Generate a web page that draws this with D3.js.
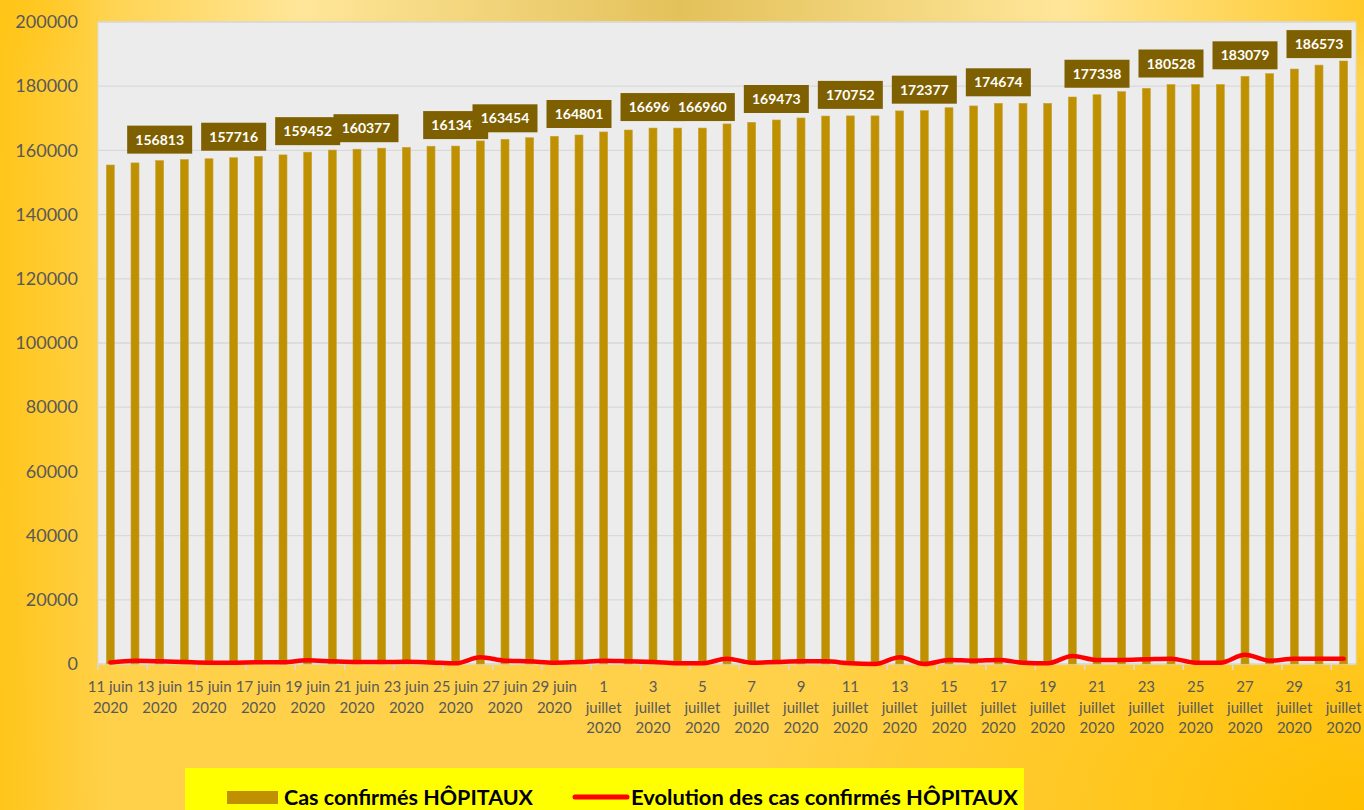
<!DOCTYPE html>
<html lang="fr">
<head>
<meta charset="UTF-8">
<title>Cas confirmés HÔPITAUX</title>
<script src="https://cdn.jsdelivr.net/npm/d3@7.8.5/dist/d3.min.js"></script>
<style>
  body { margin: 0; padding: 0; overflow: hidden; }
  svg { display: block; font-family: Lato, "Open Sans", sans-serif; }
</style>
</head>
<body>
<svg id="chart" width="1364" height="810"></svg>
<script>
// categories (one per day)
const dates = [
  "11 juin 2020", "12 juin 2020", "13 juin 2020", "14 juin 2020", "15 juin 2020", "16 juin 2020",
  "17 juin 2020", "18 juin 2020", "19 juin 2020", "20 juin 2020", "21 juin 2020", "22 juin 2020",
  "23 juin 2020", "24 juin 2020", "25 juin 2020", "26 juin 2020", "27 juin 2020", "28 juin 2020",
  "29 juin 2020", "30 juin 2020",
  "1 juillet 2020", "2 juillet 2020", "3 juillet 2020", "4 juillet 2020", "5 juillet 2020",
  "6 juillet 2020", "7 juillet 2020", "8 juillet 2020", "9 juillet 2020", "10 juillet 2020",
  "11 juillet 2020", "12 juillet 2020", "13 juillet 2020", "14 juillet 2020", "15 juillet 2020",
  "16 juillet 2020", "17 juillet 2020", "18 juillet 2020", "19 juillet 2020", "20 juillet 2020",
  "21 juillet 2020", "22 juillet 2020", "23 juillet 2020", "24 juillet 2020", "25 juillet 2020",
  "26 juillet 2020", "27 juillet 2020", "28 juillet 2020", "29 juillet 2020", "30 juillet 2020",
  "31 juillet 2020"
];

// cumulative confirmed cases (bars)
const casConfirmes = [
  155450, 156100, 156813, 157150, 157400, 157716, 158150, 158600, 159452, 160100,
  160377, 160700, 160950, 161300, 161347, 162950, 163454, 163950, 164400, 164801,
  165750, 166350, 166960, 166960, 166960, 168250, 168750, 169473, 170100, 170700,
  170752, 170752, 172300, 172377, 173300, 173850, 174674, 174674, 174674, 176636,
  177338, 178300, 179350, 180528, 180528, 180528, 183079, 183900, 185350, 186573,
  187850
];

// daily evolution (red line)
const evolution = [
  500, 1000, 850, 620, 420, 420, 520, 520, 1140, 830,
  620, 620, 700, 500, 210, 2080, 1040, 830, 420, 620,
  1040, 830, 620, 210, 210, 1660, 420, 620, 830, 830,
  210, 0, 2080, 0, 1250, 1040, 1250, 420, 210, 2490,
  1250, 1250, 1450, 1660, 420, 420, 2900, 1040, 1660, 1660,
  1660
];

// data labels shown on the chart (category index -> text)
const labelIndex = [2, 5, 8, 10, 14, 16, 19, 22, 24, 27, 30, 33, 36, 40, 43, 46, 49];
const labelText = ["156813", "157716", "159452", "160377", "161347", "163454", "164801", "166960",
  "166960", "169473", "170752", "172377", "174674", "177338", "180528", "183079", "186573"];

const yTicks = [0, 20000, 40000, 60000, 80000, 100000, 120000, 140000, 160000, 180000, 200000];

const seriesNames = ["Cas confirmés HÔPITAUX", "Evolution des cas confirmés HÔPITAUX"];

const W = 1364, H = 810;
const plot = { left: 98, right: 1356, top: 22, bottom: 664 };

const svg = d3.select("#chart");
const defs = svg.append("defs");

// background gradients
const gH = defs.append("linearGradient").attr("id", "bgH").attr("x1", 0).attr("x2", 1).attr("y1", 0).attr("y2", 0);
[[0, "#ffc928"], [0.22, "#ffe699"], [0.5, "#e3c15a"], [0.78, "#ffe699"], [1, "#ffc928"]]
  .forEach(s => gH.append("stop").attr("offset", s[0]).attr("stop-color", s[1]));

const gV = defs.append("linearGradient").attr("id", "bgV").attr("x1", 0).attr("x2", 0).attr("y1", 0).attr("y2", 1);
gV.append("stop").attr("offset", 0.02).attr("stop-color", "#ffd24a").attr("stop-opacity", 0);
gV.append("stop").attr("offset", 0.1).attr("stop-color", "#ffd24a").attr("stop-opacity", 1);
gV.append("stop").attr("offset", 1).attr("stop-color", "#ffd04a").attr("stop-opacity", 1);

const gL = defs.append("linearGradient").attr("id", "bgL").attr("x1", 0).attr("x2", 1).attr("y1", 0).attr("y2", 0);
gL.append("stop").attr("offset", 0).attr("stop-color", "#ffc415").attr("stop-opacity", 0.9);
gL.append("stop").attr("offset", 1).attr("stop-color", "#ffc415").attr("stop-opacity", 0);

const gR = defs.append("radialGradient").attr("id", "bgR").attr("cx", 1).attr("cy", 1).attr("r", 0.45);
gR.append("stop").attr("offset", 0).attr("stop-color", "#ffc000").attr("stop-opacity", 1);
gR.append("stop").attr("offset", 1).attr("stop-color", "#ffc000").attr("stop-opacity", 0);

svg.append("rect").attr("width", W).attr("height", H).attr("fill", "url(#bgH)");
svg.append("rect").attr("width", W).attr("height", H).attr("fill", "url(#bgV)");
svg.append("rect").attr("width", 110).attr("height", H).attr("fill", "url(#bgL)");
svg.append("rect").attr("width", W).attr("height", H).attr("fill", "url(#bgR)");

// plot area
svg.append("rect")
  .attr("x", plot.left).attr("y", plot.top)
  .attr("width", plot.right - plot.left).attr("height", plot.bottom - plot.top)
  .attr("fill", "#ececec").attr("stroke", "#d9d9d9").attr("stroke-width", 1);

const x = d3.scaleBand()
  .domain(dates)
  .range([plot.left, plot.right])
  .paddingInner(0.675)
  .paddingOuter(0.3375);

const y = d3.scaleLinear().domain([0, 200000]).range([plot.bottom, plot.top]);

// gridlines
svg.append("g")
  .selectAll("line")
  .data(yTicks)
  .join("line")
  .attr("x1", plot.left).attr("x2", plot.right)
  .attr("y1", d => y(d)).attr("y2", d => y(d))
  .attr("stroke", "#d9d9d9").attr("stroke-width", 1.3);

// y axis
const yAxis = svg.append("g")
  .attr("transform", `translate(${plot.left},0)`)
  .call(d3.axisLeft(y).tickValues(yTicks).tickSize(0).tickPadding(20).tickFormat(d3.format("d")));
yAxis.select(".domain").remove();
yAxis.selectAll("text")
  .attr("fill", "#595959").style("font-size", "18px").style("font-family", "Lato, sans-serif");

// x tick marks every two days
const step = x.step();
const tickCats = dates.filter((d, i) => i % 2 === 0);
svg.append("g")
  .selectAll("line")
  .data(tickCats)
  .join("line")
  .attr("x1", d => x(d) + x.bandwidth() / 2 - step / 2)
  .attr("x2", d => x(d) + x.bandwidth() / 2 - step / 2)
  .attr("y1", plot.bottom).attr("y2", plot.bottom + 6)
  .attr("stroke", "#d9d9d9").attr("stroke-width", 1.5);

// x labels (wrapped like the original)
function wrapLabel(d) {
  const parts = d.split(" ");
  if (parts[1] === "juin") return [parts[0] + " juin", parts[2]];
  return parts;
}
const xl = svg.append("g")
  .selectAll("text")
  .data(tickCats)
  .join("text")
  .attr("x", d => x(d) + x.bandwidth() / 2)
  .attr("y", 692)
  .attr("text-anchor", "middle")
  .attr("fill", "#595959")
  .style("font-size", "15px");
xl.each(function (d) {
  const t = d3.select(this);
  wrapLabel(d).forEach((line, i) => {
    t.append("tspan")
      .attr("x", x(d) + x.bandwidth() / 2)
      .attr("dy", i === 0 ? 0 : 20.7)
      .text(line);
  });
});

// bars
svg.append("g")
  .selectAll("rect")
  .data(casConfirmes)
  .join("rect")
  .attr("x", (d, i) => x(dates[i]))
  .attr("y", d => y(d))
  .attr("width", x.bandwidth())
  .attr("height", d => y(0) - y(d))
  .attr("fill", "#bf9000")
  .attr("stroke", "#c9a43a")
  .attr("stroke-width", 0.6);

// red line
const line = d3.line()
  .x((d, i) => x(dates[i]) + x.bandwidth() / 2)
  .y(d => y(d))
  .curve(d3.curveMonotoneX);
svg.append("path")
  .datum(evolution)
  .attr("d", line)
  .attr("fill", "none")
  .attr("stroke", "#ff0000")
  .attr("stroke-width", 4.5)
  .attr("stroke-linecap", "round")
  .attr("stroke-linejoin", "round");

// data labels
const nudge = { 10: 9 };
const boxW = 65, boxH = 28;
const lab = svg.append("g")
  .selectAll("g")
  .data(labelIndex.map((idx, k) => ({ idx, text: labelText[k] })))
  .join("g")
  .attr("transform", d => {
    const cx = x(dates[d.idx]) + x.bandwidth() / 2 + (nudge[d.idx] || 0);
    const bottom = y(casConfirmes[d.idx]) - 7;
    return `translate(${cx},${bottom - boxH / 2})`;
  });
lab.append("rect")
  .attr("x", -boxW / 2).attr("y", -boxH / 2)
  .attr("width", boxW).attr("height", boxH)
  .attr("fill", "#7f6000");
lab.append("text")
  .attr("text-anchor", "middle")
  .attr("dy", "0.36em")
  .attr("fill", "#ffffff")
  .style("font-size", "14px")
  .style("font-weight", "bold")
  .text(d => d.text);

// legend
const leg = svg.append("g");
leg.append("rect")
  .attr("x", 185).attr("y", 768).attr("width", 839).attr("height", 50)
  .attr("fill", "#ffff00");
leg.append("rect")
  .attr("x", 227).attr("y", 791).attr("width", 51).attr("height", 13)
  .attr("fill", "#bf9000");
leg.append("text")
  .attr("x", 284).attr("y", 805)
  .attr("textLength", 249).attr("lengthAdjust", "spacingAndGlyphs")
  .style("font-size", "21px").style("font-weight", "bold").attr("fill", "#000")
  .text(seriesNames[0]);
leg.append("line")
  .attr("x1", 575).attr("x2", 627).attr("y1", 797).attr("y2", 797)
  .attr("stroke", "#ff0000").attr("stroke-width", 5).attr("stroke-linecap", "round");
leg.append("text")
  .attr("x", 631).attr("y", 805)
  .attr("textLength", 387).attr("lengthAdjust", "spacingAndGlyphs")
  .style("font-size", "21px").style("font-weight", "bold").attr("fill", "#000")
  .text(seriesNames[1]);
</script>
</body>
</html>
